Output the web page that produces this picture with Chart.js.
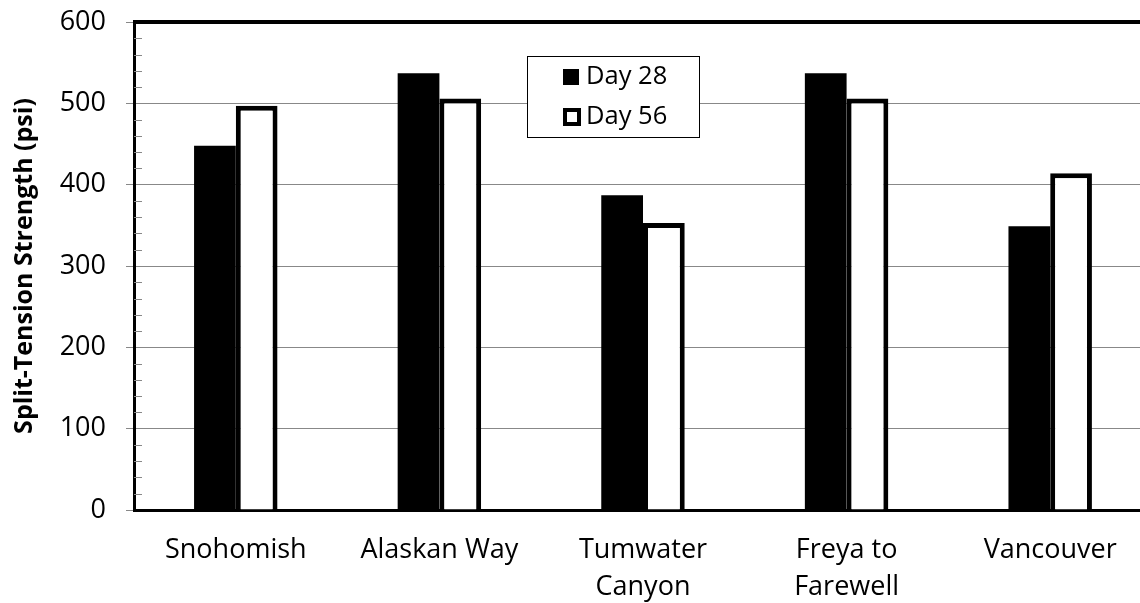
<!DOCTYPE html>
<html>
<head>
<meta charset="utf-8">
<script src="https://cdn.jsdelivr.net/npm/chart.js@4"></script>
<style>
  html, body { margin: 0; padding: 0; background: #fff; overflow: hidden; }
  #wrap { width: 1152px; height: 603px; }
</style>
</head>
<body>
<div id="wrap"><canvas id="myChart" width="1152" height="603"></canvas></div>
<script>
const categorias = ['Snohomish', 'Alaskan Way', ['Tumwater', 'Canyon'], ['Freya to', 'Farewell'], 'Vancouver'];
const dia28 = [448, 537, 387, 537, 349];
const dia56 = [497, 506, 353, 506, 414];
const etiquetasSeries = ['Day 28', 'Day 56'];
const tituloY = 'Split-Tension Strength (psi)';
const fuente = "'Open Sans', sans-serif";

// marcas menores, borde superior y leyenda dentro del grafico
const extras = {
  id: 'extras',
  afterDraw(chart) {
    const ctx = chart.ctx;
    const area = chart.chartArea;
    const y = chart.scales.y;

    ctx.save();
    ctx.strokeStyle = '#888';
    ctx.lineWidth = 1;
    for (let v = 20; v < 600; v += 20) {
      if (v % 100 === 0) continue;
      const py = Math.round(y.getPixelForValue(v)) + 0.5;
      ctx.beginPath();
      ctx.moveTo(area.left, py);
      ctx.lineTo(area.left + 8, py);
      ctx.stroke();
    }

    ctx.strokeStyle = '#000';
    ctx.lineWidth = 4;
    ctx.beginPath();
    ctx.moveTo(area.left - 1, area.top);
    ctx.lineTo(area.right, area.top);
    ctx.stroke();

    // leyenda
    const bx = area.left + 393, by = area.top + 34, bw = 172, bh = 81;
    ctx.fillStyle = '#fff';
    ctx.fillRect(bx, by, bw, bh);
    ctx.strokeStyle = '#000';
    ctx.lineWidth = 1;
    ctx.strokeRect(bx + 0.5, by + 0.5, bw, bh);

    ctx.font = '25.5px ' + fuente;
    ctx.textBaseline = 'middle';
    ctx.textAlign = 'left';
    chart.data.datasets.forEach((ds, i) => {
      const cy = by + 21 + i * 40;
      const sx = bx + 36;
      if (ds.borderWidth > 0) {
        ctx.fillStyle = ds.backgroundColor;
        ctx.fillRect(sx, cy - 9, 18, 18);
        ctx.strokeStyle = ds.borderColor;
        ctx.lineWidth = 4;
        ctx.strokeRect(sx + 2, cy - 7, 14, 14);
      } else {
        ctx.fillStyle = ds.backgroundColor;
        ctx.fillRect(sx, cy - 8, 16, 16);
      }
      ctx.fillStyle = '#000';
      ctx.fillText(ds.label, bx + 59, cy);
    });
    ctx.restore();
  }
};

const ctx = document.getElementById('myChart').getContext('2d');
const myChart = new Chart(ctx, {
  type: 'bar',
  data: {
    labels: categorias,
    datasets: [
      {
        label: etiquetasSeries[0],
        data: dia28,
        backgroundColor: '#000',
        borderColor: '#000',
        borderWidth: 0
      },
      {
        label: etiquetasSeries[1],
        data: dia56,
        backgroundColor: '#fff',
        borderColor: '#000',
        borderWidth: 5
      }
    ]
  },
  plugins: [extras],
  options: {
    responsive: false,
    animation: false,
    layout: { padding: { top: 22, left: 0, right: 0, bottom: 0 } },
    datasets: {
      bar: { categoryPercentage: 0.41, barPercentage: 1.0 }
    },
    plugins: {
      legend: { display: false },
      tooltip: { enabled: false }
    },
    scales: {
      x: {
        grid: { display: false, drawTicks: false },
        border: { display: true, color: '#000', width: 3 },
        ticks: {
          color: '#000',
          padding: 22,
          maxRotation: 0,
          autoSkip: false,
          font: { family: fuente, size: 27, lineHeight: 1.37 }
        },
        afterFit: (scale) => { scale.height = 93; }
      },
      y: {
        min: 0,
        max: 600,
        ticks: {
          stepSize: 100,
          color: '#000',
          padding: 20,
          font: { family: fuente, size: 27 }
        },
        grid: { color: '#888', lineWidth: 1, tickLength: 8 },
        border: { display: true, color: '#000', width: 3 },
        title: {
          display: true,
          text: tituloY,
          color: '#000',
          padding: { top: 10, bottom: 0 },
          font: { family: fuente, size: 25, weight: 'bold' }
        },
        afterFit: (scale) => {
          scale.width = 134;
          scale.paddingTop = 0;
          scale.paddingBottom = 0;
        }
      }
    }
  }
});
</script>
</body>
</html>
